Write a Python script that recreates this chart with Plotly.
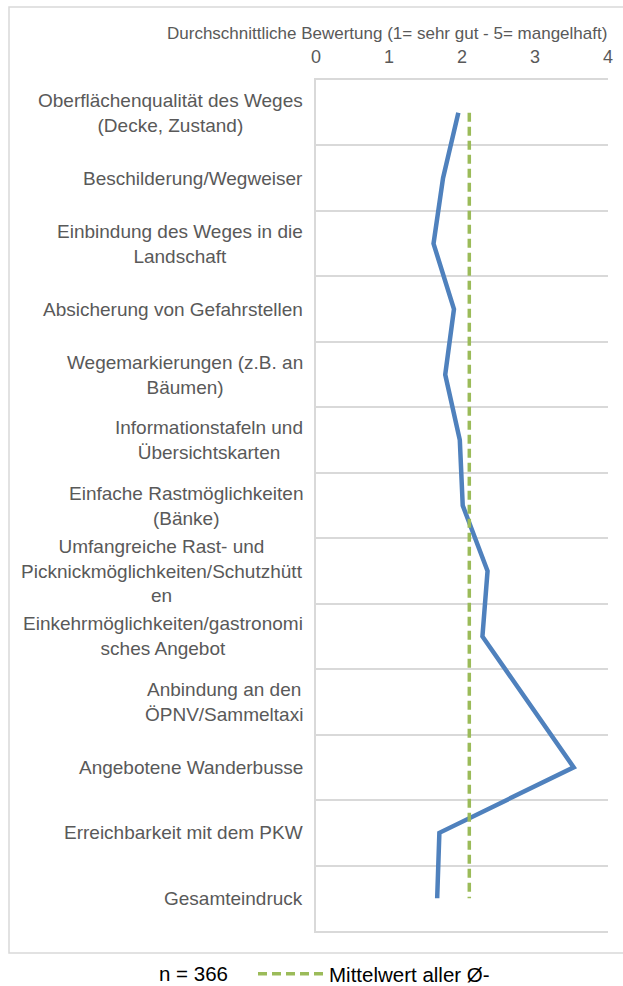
import plotly.graph_objects as go

# ---- data ----
categories = [
    "Oberflächenqualität des Weges<br>(Decke, Zustand)",
    "Beschilderung/Wegweiser",
    "Einbindung des Weges in die<br>Landschaft",
    "Absicherung von Gefahrstellen",
    "Wegemarkierungen (z.B. an<br>Bäumen)",
    "Informationstafeln und<br>Übersichtskarten",
    "Einfache Rastmöglichkeiten<br>(Bänke)",
    "Umfangreiche Rast- und<br>Picknickmöglichkeiten/Schutzhütt<br>en",
    "Einkehrmöglichkeiten/gastronomi<br>sches Angebot",
    "Anbindung an den<br>ÖPNV/Sammeltaxi",
    "Angebotene Wanderbusse",
    "Erreichbarkeit mit dem PKW",
    "Gesamteindruck",
]
ratings = [1.95, 1.74, 1.61, 1.89, 1.77, 1.97, 2.01, 2.35, 2.28, 2.90, 3.53, 1.69, 1.66]
mean_all = [2.10] * len(categories)
x_ticks = [0, 1, 2, 3, 4]
axis_title = "Durchschnittliche Bewertung (1= sehr gut - 5= mangelhaft)"
n_label = "n = 366"
mean_name = "Mittelwert aller Ø-"

W, H = 623, 986
L, R, T, B = 316, 15, 80, 55
pw = W - L - R
ph = H - T - B

def px_x(p):
    return (p - L) / pw

def px_y(p):
    return (H - B - p) / ph

FONT = "Liberation Sans, Arial, sans-serif"
GRAY = "#595959"
GRID = "#D9D9D9"

fig = go.Figure()
fig.add_trace(go.Scatter(
    x=ratings, y=categories, mode="lines",
    line=dict(color="#4F81BD", width=4.5),
    showlegend=False, name="Bewertung",
))
fig.add_trace(go.Scatter(
    x=mean_all, y=categories, mode="lines",
    line=dict(color="#9BBB59", width=3.5, dash="9px,5px"),
    showlegend=True, name=mean_name,
))

annotations = []
for c in categories:
    annotations.append(dict(
        x=0, xref="paper", y=c, yref="y", text=c, showarrow=False,
        xanchor="right", yanchor="middle", align="center", xshift=-11,
        font=dict(family=FONT, size=19, color=GRAY),
    ))
annotations.append(dict(
    x=px_x(386.5), xref="paper", y=px_y(33), yref="paper", text=axis_title,
    showarrow=False, xanchor="center", yanchor="middle",
    font=dict(family=FONT, size=17, color=GRAY),
))
annotations.append(dict(
    x=px_x(193.5), xref="paper", y=px_y(974), yref="paper", text=n_label,
    showarrow=False, xanchor="center", yanchor="middle",
    font=dict(family=FONT, size=20.5, color="#000000"),
))

shapes = [dict(
    type="rect", xref="paper", yref="paper",
    x0=px_x(9), x1=px_x(640), y0=px_y(953), y1=px_y(7),
    line=dict(color=GRID, width=1.5), fillcolor="rgba(0,0,0,0)", layer="below",
)]

fig.update_layout(
    width=W, height=H,
    margin=dict(l=L, r=R, t=T, b=B, pad=0, autoexpand=False),
    paper_bgcolor="white", plot_bgcolor="white",
    font=dict(family=FONT, color=GRAY),
    xaxis=dict(
        side="top", range=[0, 4], tickvals=x_ticks, ticks="",
        showgrid=False, zeroline=False,
        showline=True, mirror=True, linecolor=GRID, linewidth=1.5,
        tickfont=dict(family=FONT, size=18, color=GRAY),
        ticklabelstandoff=8, fixedrange=True,
    ),
    yaxis=dict(
        type="category", categoryorder="array", categoryarray=categories,
        range=[len(categories) - 0.5, -0.5], tickson="boundaries", ticks="",
        showticklabels=False, showgrid=True, gridcolor=GRID, gridwidth=1.5,
        showline=True, linecolor=GRID, linewidth=2, zeroline=False,
        fixedrange=True,
    ),
    legend=dict(
        orientation="h", xref="container", yref="container",
        x=253 / W, xanchor="left", y=(H - 974) / H, yanchor="middle",
        font=dict(family=FONT, size=20.5, color="#000000"),
        bgcolor="rgba(0,0,0,0)", itemwidth=66,
    ),
    annotations=annotations,
    shapes=shapes,
)

fig.write_html(
    "out.html",
    config={"displayModeBar": False},
    post_script="document.body.style.margin='0';document.body.style.overflow='hidden';",
)
